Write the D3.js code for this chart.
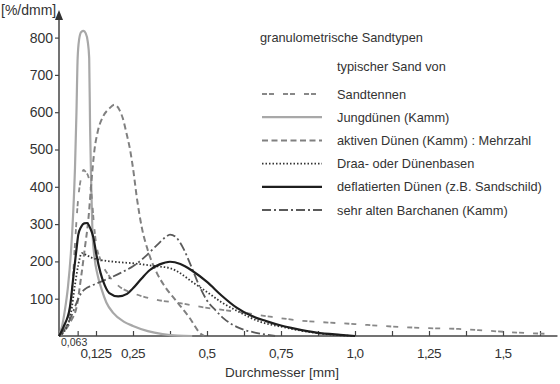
<!DOCTYPE html>
<html>
<head>
<meta charset="utf-8">
<script src="https://cdn.jsdelivr.net/npm/d3@7"></script>
<style>
  body { margin: 0; background: #fff; }
  svg text { font-family: "Liberation Sans", sans-serif; fill: #333; }
</style>
</head>
<body>
<div id="chart"></div>
<script>
// grain diameter in mm, density in %/dmm
const sandtennenX = [0, 0.02, 0.035, 0.045, 0.055, 0.065, 0.075, 0.083, 0.09, 0.1, 0.11, 0.118, 0.126, 0.14, 0.17, 0.2, 0.26, 0.33, 0.41, 0.48, 0.61, 0.72, 0.82, 0.91, 1.0, 1.09, 1.16, 1.25, 1.35, 1.45, 1.55, 1.64]
const sandtennenY = [0, 20, 60, 130, 260, 370, 425, 445, 440, 425, 380, 300, 245, 205, 160, 135, 112, 97, 88, 78, 64, 51, 41, 36, 32, 27, 24, 21, 19, 14, 9, 6]

const jungX = [0, 0.01, 0.02, 0.03, 0.04, 0.048, 0.054, 0.059, 0.063, 0.068, 0.075, 0.083, 0.09, 0.097, 0.102, 0.105, 0.109, 0.113, 0.12, 0.13, 0.144, 0.16, 0.183, 0.22, 0.25, 0.3, 0.35, 0.4, 0.45]
const jungY = [0, 25, 70, 130, 220, 330, 450, 600, 745, 795, 815, 818, 812, 790, 745, 560, 400, 280, 210, 165, 125, 90, 62, 38, 27, 13, 5, 1, 0]

const aktivX = [0, 0.02, 0.04, 0.06, 0.075, 0.088, 0.099, 0.11, 0.12, 0.13, 0.15, 0.17, 0.187, 0.205, 0.215, 0.229, 0.24, 0.25, 0.264, 0.28, 0.3, 0.33, 0.36, 0.393, 0.44, 0.48, 0.49]
const aktivY = [0, 15, 40, 80, 160, 240, 311, 418, 500, 545, 590, 610, 620, 605, 585, 540, 500, 450, 365, 290, 230, 170, 130, 97, 50, 5, 0]

const draaX = [0, 0.02, 0.04, 0.054, 0.065, 0.077, 0.09, 0.11, 0.14, 0.2, 0.25, 0.3, 0.34, 0.375, 0.41, 0.45, 0.5, 0.55, 0.6, 0.68, 0.75, 0.85, 0.95, 1.0]
const draaY = [0, 15, 60, 137, 190, 222, 218, 210, 204, 198, 195, 190, 186, 182, 168, 145, 118, 90, 68, 38, 25, 10, 2, 0]

const deflX = [0, 0.015, 0.037, 0.05, 0.06, 0.065, 0.075, 0.085, 0.095, 0.105, 0.116, 0.127, 0.14, 0.155, 0.17, 0.2, 0.23, 0.25, 0.28, 0.307, 0.34, 0.375, 0.41, 0.45, 0.5, 0.55, 0.6, 0.65, 0.7, 0.75, 0.8, 0.87, 0.95, 1.0]
const deflY = [0, 24, 78, 170, 239, 271, 293, 302, 303, 290, 265, 215, 170, 135, 115, 106, 113, 128, 155, 177, 192, 199, 193, 175, 145, 108, 76, 54, 40, 28, 19, 9, 3, 0]

const barchanX = [0, 0.02, 0.04, 0.06, 0.075, 0.09, 0.11, 0.14, 0.17, 0.21, 0.25, 0.29, 0.33, 0.36, 0.375, 0.395, 0.42, 0.445, 0.476, 0.5, 0.53, 0.555, 0.61, 0.67, 0.73]
const barchanY = [0, 20, 50, 90, 115, 127, 135, 145, 155, 170, 187, 212, 243, 265, 272, 265, 235, 190, 131, 95, 68, 48, 21, 8, 0]

const seriesNames = ["Sandtennen", "Jungdünen (Kamm)", "aktiven Dünen (Kamm) : Mehrzahl", "Draa- oder Dünenbasen", "deflatierten Dünen (z.B. Sandschild)", "sehr alten Barchanen (Kamm)"]

const yTicks = [100, 200, 300, 400, 500, 600, 700, 800]
const xTickValues = [0.063, 0.125, 0.25, 0.375, 0.5, 0.625, 0.75, 0.875, 1.0, 1.125, 1.25, 1.375, 1.5, 1.625]
const xLabelValues = [0.125, 0.25, 0.5, 0.75, 1.0, 1.25, 1.5]
const xLabelTexts = ["0,125", "0,25", "0,5", "0,75", "1,0", "1,25", "1,5"]

const styles = [
    {color: "#888", width: 1.8, dash: "5,2,5,9"},
    {color: "#a8a8a8", width: 2.2, dash: null},
    {color: "#808080", width: 2, dash: "6,3.5"},
    {color: "#333", width: 1.8, dash: "1.5,2"},
    {color: "#1e1e1e", width: 2.2, dash: null},
    {color: "#5a5a5a", width: 1.8, dash: "9,3,2,3"},
]

const width = 560, height = 384

const svg = d3.select("#chart").append("svg")
    .attr("width", width)
    .attr("height", height)

let x = d3.scaleLinear().domain([0, 1.5]).range([59, 503])
let y = d3.scaleLinear().domain([0, 800]).range([336, 37.6])

// y axis
const yAxis = svg.append("g")
    .attr("transform", "translate(59,0)")
    .call(d3.axisLeft(y).tickValues(yTicks).tickSize(4).tickSizeOuter(0))
yAxis.select(".domain").remove()
yAxis.selectAll("line").attr("stroke", "#444").attr("stroke-width", 1.2)
yAxis.selectAll("text").attr("font-size", 14).attr("x", -6).attr("fill", "#333")
    .style("font-family", "'Liberation Sans', sans-serif")

svg.append("line")
    .attr("x1", 59).attr("x2", 59)
    .attr("y1", y(0)).attr("y2", 19)
    .attr("stroke", "#444").attr("stroke-width", 1.5)
svg.append("path")
    .attr("d", "M55,20 L63,20 L59,10 Z")
    .attr("fill", "#333")

svg.append("text")
    .attr("x", 1).attr("y", 15)
    .attr("font-size", 14)
    .text("[%/dmm]")

// x axis, ticks point up
const xAxis = svg.append("g")
    .attr("transform", "translate(0," + y(0) + ")")
    .call(d3.axisBottom(x).tickValues(xTickValues).tickSize(-5).tickSizeOuter(0).tickFormat(""))
xAxis.select(".domain").remove()
xAxis.selectAll("line").attr("stroke", "#444").attr("stroke-width", 1.2)

svg.append("line")
    .attr("x1", 59).attr("x2", x(1.684))
    .attr("y1", y(0)).attr("y2", y(0))
    .attr("stroke", "#444").attr("stroke-width", 1.5)

svg.selectAll(".xlab")
    .data(xLabelValues)
    .enter()
    .append("text")
    .attr("class", "xlab")
    .attr("x", d => x(d))
    .attr("y", 358)
    .attr("text-anchor", "middle")
    .attr("font-size", 13.5)
    .attr("letter-spacing", -0.6)
    .text((d, i) => xLabelTexts[i])

svg.append("text")
    .attr("x", 61).attr("y", 346)
    .attr("font-size", 10.5)
    .text("0,063")

svg.append("text")
    .attr("x", 282).attr("y", 377)
    .attr("text-anchor", "middle")
    .attr("font-size", 13.5)
    .text("Durchmesser [mm]")

// curves
const allX = [sandtennenX, jungX, aktivX, draaX, deflX, barchanX]
const allY = [sandtennenY, jungY, aktivY, draaY, deflY, barchanY]

const line = d3.line()
    .x(d => x(d[0]))
    .y(d => y(d[1]))
    .curve(d3.curveMonotoneX)

const plotOrder = [1, 0, 2, 3, 5, 4]
plotOrder.forEach(function(i) {
    const pts = allX[i].map((v, j) => [v, allY[i][j]])
    svg.append("path")
        .datum(pts)
        .attr("d", line)
        .attr("fill", "none")
        .attr("stroke", styles[i].color)
        .attr("stroke-width", styles[i].width)
        .attr("stroke-dasharray", styles[i].dash)
})

// legend
svg.append("text")
    .attr("x", 260).attr("y", 42)
    .attr("font-size", 12.8)
    .text("granulometrische Sandtypen")
svg.append("text")
    .attr("x", 337).attr("y", 71)
    .attr("font-size", 12.8)
    .text("typischer Sand von")

const legend = svg.selectAll(".leg")
    .data(seriesNames)
    .enter()
    .append("g")
    .attr("class", "leg")
    .attr("transform", (d, i) => "translate(0," + (94 + i * 23.2) + ")")

legend.append("line")
    .attr("x1", 262).attr("x2", 322)
    .attr("y1", 0).attr("y2", 0)
    .attr("stroke", (d, i) => styles[i].color)
    .attr("stroke-width", (d, i) => styles[i].width)
    .attr("stroke-dasharray", (d, i) => styles[i].dash)

legend.append("text")
    .attr("x", 337).attr("y", 4.5)
    .attr("font-size", 12.8)
    .text(d => d)
</script>
</body>
</html>
